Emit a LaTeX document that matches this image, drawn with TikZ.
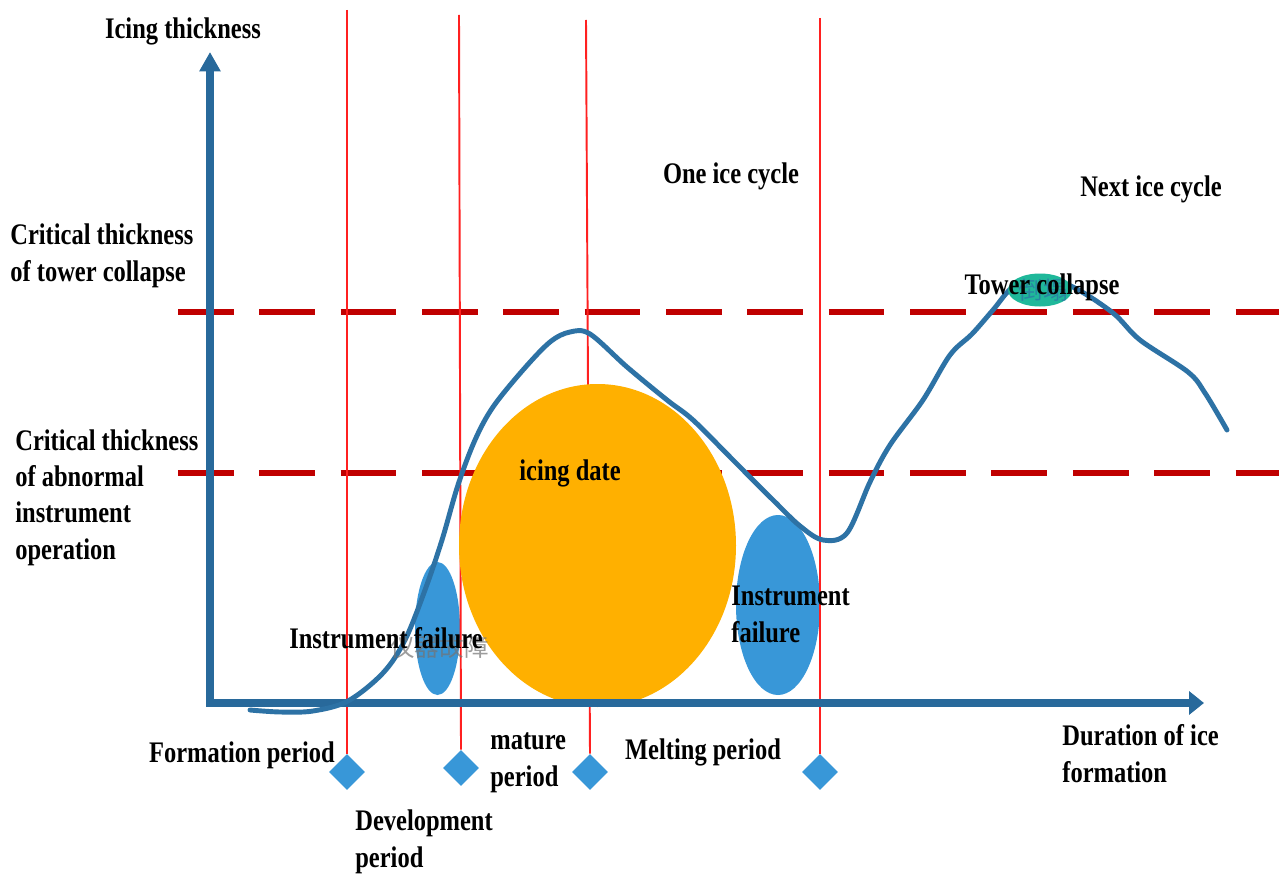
\documentclass[tikz,border=0pt]{standalone}
\usepackage{fontspec}
\setmainfont{Liberation Serif}[FakeStretch=0.82]
\newfontfamily\cjkfont{Noto Sans CJK SC}
\usetikzlibrary{arrows.meta,shapes.geometric}

\definecolor{axisblue}{HTML}{28699B}
\definecolor{curveblue}{HTML}{2D72A5}
\definecolor{fillblue}{HTML}{3897D8}
\definecolor{icorange}{HTML}{FFB000}
\definecolor{teal}{HTML}{1FB89A}
\definecolor{darkred}{HTML}{C00000}
\definecolor{brightred}{HTML}{FF2020}

\tikzset{
  lbl/.style={font=\bfseries\fontsize{17}{20.5}\selectfont, inner sep=0pt, align=left},
  ghost/.style={font=\cjkfont\fontsize{14}{16}\selectfont, inner sep=0pt},
  axisline/.style={draw=axisblue, line width=4pt, line join=miter},
  threshold/.style={draw=darkred, line width=3.7pt, dash pattern=on 31.7pt off 14.6pt},
  phase/.style={draw=brightred, line width=1.1pt},
  marker/.style={diamond, fill=fillblue, minimum width=36*0.02cm, minimum height=36*0.02cm, inner sep=0pt},
  blob/.style={ellipse, inner sep=0pt},
  icecurve/.style={draw=curveblue, line width=2.8pt, line cap=round, line join=round}
}

\begin{document}
\begin{tikzpicture}[x=0.02cm, y=-0.02cm]
\path[use as bounding box, fill=white] (0,0) rectangle (1279,875);

% threshold lines
\coordinate (collapseL) at (178,312);
\coordinate (collapseR) at (1279,312);
\coordinate (abnormalL) at (178,473);
\coordinate (abnormalR) at (1279,473);
\draw[threshold] (collapseL) -- (collapseR);
\draw[threshold] (abnormalL) -- (abnormalR);

% instrument failure regions
\node[blob, fill=fillblue, minimum width=45*0.02cm, minimum height=133*0.02cm] (failA) at (437.5,628.5) {};
\node[blob, fill=fillblue, minimum width=84*0.02cm, minimum height=180*0.02cm] (failB) at (778,605) {};

% period markers and boundaries
\node[marker] (m1) at (347,772) {};
\node[marker] (m2) at (461,768) {};
\node[marker] (m3) at (590,772) {};
\node[marker] (m4) at (820,772) {};
\coordinate (t1) at (347,10);
\coordinate (t2) at (459,15);
\coordinate (t3) at (586,20);
\coordinate (t4) at (820,18);
\draw[phase] (t1) -- (m1.north);
\draw[phase] (t2) -- (m2.north);
\draw[phase] (t3) -- (m3.north);
\draw[phase] (t4) -- (m4.north);

% icing period
\node[blob, fill=icorange, minimum width=277*0.02cm, minimum height=323*0.02cm] (icing) at (597.5,545.5) {};

% axes
\coordinate (origin) at (210,703);
\coordinate (ytip) at (210,52);
\coordinate (xtip) at (1204,703);
\draw[axisline, {Triangle[length=11pt,width=11.5pt]}-{Triangle[length=8.5pt,width=13pt]}] (ytip) -- (origin) -- (xtip);

% icing thickness curve
\draw[icecurve] plot[smooth, tension=0.55] coordinates {
 (250,710) (280,712) (313,711) (348,701) (383,673) (405,640) (425,590)
 (442,540) (458,485) (475,440) (493,407) (523,370) (550,342) (570,332)
 (590,334) (627,367) (667,400) (693,420) (733,460) (773,500) (800,526)
 (823,540) (847,533) (870,482) (890,445) (923,400) (950,355) (972,334)
 (993,310) (1013,287) (1040,277) (1073,287) (1113,313) (1140,340)
 (1188,372) (1205,393) (1227,430)};

% collapse point
\node[blob, fill=teal, minimum width=64*0.02cm, minimum height=33*0.02cm] (collapse) at (1040,290) {};
\node[ghost, text=curveblue, opacity=0.7] (collapsecn) at (1043,290) {倒塌};
\node[ghost, text=black!55, opacity=0.7, anchor=base west] (failcn) at (390,656) {仪器故障};

% labels (multi-line labels are placed by their last baseline)
\node[lbl, anchor=base] (ylabel) at (183,39) {Icing thickness};
\node[lbl, anchor=base west] (crit1) at (10,281) {Critical thickness\\of tower collapse};
\node[lbl, anchor=base west] (crit2) at (15,559) {Critical thickness\\of abnormal\\instrument\\operation};
\node[lbl, anchor=base] (cycle1) at (731,184) {One ice cycle};
\node[lbl, anchor=base] (cycle2) at (1151,196) {Next ice cycle};
\node[lbl, anchor=base] (collapselbl) at (1042,295) {Tower collapse};
\node[lbl, anchor=base] (icinglbl) at (570,480) {icing date};
\node[lbl, anchor=base] (faillblA) at (386,648) {Instrument failure};
\node[lbl, anchor=base west] (faillblB) at (731,642) {Instrument\\failure};
\node[lbl, anchor=base west] (xlabel) at (1062,782) {Duration of ice\\formation};
\node[lbl, anchor=base] (p1) at (242,762) {Formation period};
\node[lbl, anchor=base west] (p2) at (355,867) {Development\\period};
\node[lbl, anchor=base west] (p3) at (490,786) {mature\\period};
\node[lbl, anchor=base] (p4) at (703,759) {Melting period};
\end{tikzpicture}
\end{document}
